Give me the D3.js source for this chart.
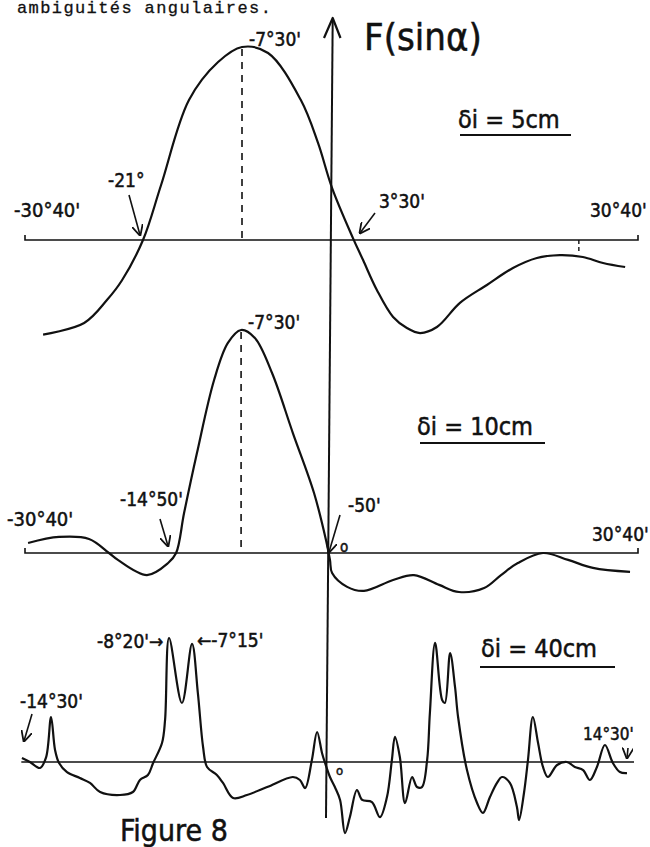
<!DOCTYPE html>
<html>
<head>
<meta charset="utf-8">
<script src="https://cdn.jsdelivr.net/npm/d3@7"></script>
<style>
  body { margin: 0; background: #fff; }
  .hand { font-family: "Liberation Sans Narrow", "DejaVu Sans Condensed", "Liberation Sans", sans-serif; fill: #111; stroke: #111; stroke-width: 0.5; }
  .type { font-family: "Liberation Mono", "DejaVu Sans Mono", monospace; fill: #111; stroke: #111; stroke-width: 0.3; }
</style>
</head>
<body>
<svg class="chart"></svg>
<script>
// abscissa: position along the axis, -1 = -30°40', +1 = +30°40'
// ordinate: F(sin a) normalised so the main peak is 1

// di = 5 cm
const u5 = [-0.941, -0.807, -0.732, -0.684, -0.615, -0.556, -0.465, -0.370, -0.292, -0.207, -0.100, -0.044,
  0.002, 0.070, 0.103, 0.148, 0.201, 0.246, 0.289, 0.344, 0.419, 0.507, 0.592, 0.670, 0.745, 0.820, 0.886, 0.958];
const f5 = [-0.49, -0.43, -0.31, -0.21, 0.0, 0.285, 0.725, 0.922, 1.0, 0.969, 0.725, 0.503,
  0.269, 0.010, -0.104, -0.259, -0.399, -0.456, -0.482, -0.451, -0.326, -0.233, -0.145, -0.093, -0.078, -0.088, -0.119, -0.140];

// di = 10 cm
const u10 = [-0.990, -0.889, -0.791, -0.726, -0.697, -0.602, -0.533, -0.507, -0.481, -0.439, -0.383, -0.338,
  -0.295, -0.250, -0.194, -0.126, -0.057, -0.018, -0.005, 0.002, 0.051, 0.106, 0.201, 0.269, 0.351, 0.416,
  0.498, 0.553, 0.608, 0.690, 0.772, 0.853, 0.974];
const f10 = [0.045, 0.072, 0.063, 0.0, -0.031, -0.099, -0.045, 0.0, 0.179, 0.448, 0.776, 0.942,
  1.0, 0.964, 0.807, 0.538, 0.269, 0.058, -0.031, -0.09, -0.152, -0.170, -0.121, -0.099, -0.143, -0.175,
  -0.157, -0.099, -0.045, 0.0, -0.031, -0.067, -0.085];

// di = 40 cm
const u40 = [-1.010, -0.984, -0.951, -0.931, -0.915, -0.902, -0.889, -0.863, -0.821, -0.788, -0.755, -0.690,
  -0.648, -0.625, -0.599, -0.582, -0.553, -0.543, -0.530, -0.488, -0.455, -0.436, -0.419, -0.406, -0.374,
  -0.354, -0.321, -0.276, -0.210, -0.126, -0.103, -0.086, -0.064, -0.047, -0.031, -0.021, -0.005, 0.011,
  0.028, 0.044, 0.060, 0.083, 0.100, 0.132, 0.158, 0.181, 0.197, 0.207, 0.223, 0.240, 0.263, 0.279, 0.295,
  0.312, 0.321, 0.338, 0.361, 0.370, 0.387, 0.403, 0.413, 0.442, 0.475, 0.494, 0.517, 0.540, 0.556, 0.582,
  0.605, 0.612, 0.628, 0.641, 0.657, 0.674, 0.690, 0.706, 0.736, 0.768, 0.794, 0.821, 0.843, 0.866, 0.892,
  0.918, 0.941, 0.964];
const f40 = [0.032, 0.0, -0.048, 0.040, 0.363, 0.097, -0.008, -0.081, -0.129, -0.169, -0.242, -0.266,
  -0.242, -0.145, -0.105, -0.008, 0.153, 0.339, 1.0, 0.476, 0.952, 0.556, 0.121, -0.040, -0.105,
  -0.169, -0.290, -0.266, -0.202, -0.121, -0.145, -0.210, 0.016, 0.242, 0.073, -0.008, -0.121, -0.202,
  -0.306, -0.573, -0.444, -0.226, -0.306, -0.323, -0.444, -0.282, 0.016, 0.202, 0.040, -0.331, -0.121, -0.202, -0.202,
  0.016, 0.395, 0.960, 0.500, 0.476, 0.879, 0.605, 0.363, -0.065, -0.331, -0.411, -0.282, -0.169, -0.121, -0.169,
  -0.363, -0.468, -0.250, 0.016, 0.363, 0.153, -0.040, -0.121, -0.024, 0.0, -0.040, -0.065, -0.145, -0.040, 0.137,
  -0.008, -0.081, -0.089];

const panelTitles = ['δi = 5cm', 'δi = 10cm', 'δi = 40cm'];
const peakPos = [-0.292, -0.295];
const peakLabels = ['-7°30\'', '-7°30\''];

const width = 650;
const height = 847;

const svg = d3.select('.chart')
  .attr('width', width)
  .attr('height', height);

const x = d3.scaleLinear()
  .domain([-1, 1])
  .range([25, 638]);

const panels = [
  {u: u5, f: f5, y: d3.scaleLinear().domain([0, 1]).range([240, 47])},
  {u: u10, f: f10, y: d3.scaleLinear().domain([0, 1]).range([553, 330])},
  {u: u40, f: f40, y: d3.scaleLinear().domain([0, 1]).range([762, 638])},
];

const line = d3.line().curve(d3.curveCatmullRom.alpha(0.5));

// arrow head marker for the hand drawn pointers
svg.append('defs').append('marker')
  .attr('id', 'head')
  .attr('viewBox', '0 0 10 10')
  .attr('refX', 9).attr('refY', 5)
  .attr('markerWidth', 7).attr('markerHeight', 7)
  .attr('orient', 'auto-start-reverse')
  .append('path')
  .attr('d', 'M0,0 L10,5 L0,10')
  .attr('fill', 'none')
  .attr('stroke', '#111')
  .attr('stroke-width', 1.6);

// vertical axis F(sin a), drawn by hand so it leans a little
svg.append('line')
  .attr('x1', x(0) + 1.2).attr('x2', x(0) - 5.5)
  .attr('y1', 19).attr('y2', 818)
  .attr('stroke', '#111').attr('stroke-width', 2);
svg.append('path')
  .attr('d', `M${x(0) - 7.5},38 L${x(0) + 1.2},18 L${x(0) + 9},38`)
  .attr('fill', 'none').attr('stroke', '#111').attr('stroke-width', 2.2)
  .attr('stroke-linejoin', 'round');

panels.forEach(function(p, i) {
  const y = p.y;
  const g = svg.append('g').attr('class', 'panel');

  // baseline with small end ticks
  const tick = i < 2 ? 5 : 0;
  const x0 = i < 2 ? x(-1) : x(-1.012);
  const x1 = i < 2 ? x(1) : x(0.987);
  g.append('path')
    .attr('d', `M${x0},${y(0) - tick} L${x0},${y(0)} L${x1},${y(0)} L${x1},${y(0) - tick}`)
    .attr('fill', 'none').attr('stroke', '#111').attr('stroke-width', 1.6);

  g.append('path')
    .attr('d', line(p.u.map(function(d, k) { return [x(d), y(p.f[k])]; })))
    .attr('fill', 'none')
    .attr('stroke', '#111')
    .attr('stroke-width', 2.2)
    .attr('stroke-linejoin', 'round');

  if (i < 2) {
    g.append('line')
      .attr('x1', x(peakPos[i])).attr('x2', x(peakPos[i]))
      .attr('y1', y(1) + 2).attr('y2', y(0))
      .attr('stroke', '#111').attr('stroke-width', 1.6)
      .attr('stroke-dasharray', '7,6');
    g.append('text')
      .attr('class', 'hand')
      .attr('x', x(peakPos[i]) + 7)
      .attr('y', y(1) - 1)
      .attr('font-size', 19)
      .text(peakLabels[i]);
  }
});

const y1 = panels[0].y;

// little dashed tick at the right hump of the first curve
svg.append('line')
  .attr('x1', x(0.807)).attr('x2', x(0.807))
  .attr('y1', y1(0)).attr('y2', y1(-0.065))
  .attr('stroke', '#111').attr('stroke-width', 1.4)
  .attr('stroke-dasharray', '4,3');

// titles di = ...
const titlePos = [[458, 128], [417, 435], [481, 657]];
const underline = [[460, 571, 135], [420, 545, 443], [480, 615, 667]];
panelTitles.forEach(function(t, i) {
  svg.append('text')
    .attr('class', 'hand')
    .attr('x', titlePos[i][0]).attr('y', titlePos[i][1])
    .attr('font-size', 25)
    .text(t);
  svg.append('line')
    .attr('x1', underline[i][0]).attr('x2', underline[i][1])
    .attr('y1', underline[i][2]).attr('y2', underline[i][2])
    .attr('stroke', '#111').attr('stroke-width', 1.8);
});

const labels = [
  {t: 'ambiguités angulaires.', x: 17, y: 13, s: 17, c: 'type', ls: 1.4},
  {t: 'F(sinα)', x: 364, y: 50, s: 38},
  {t: '-30°40\'', x: 14, y: 217, s: 20},
  {t: '30°40\'', x: 590, y: 217, s: 19},
  {t: '-21°', x: 108, y: 187, s: 19},
  {t: '3°30\'', x: 379, y: 208, s: 19},
  {t: '-30°40\'', x: 7, y: 526, s: 20},
  {t: '30°40\'', x: 592, y: 541, s: 19},
  {t: '-14°50\'', x: 120, y: 506, s: 19},
  {t: '-50\'', x: 348, y: 512, s: 19},
  {t: 'o', x: 340, y: 552, s: 15},
  {t: '-8°20\'→', x: 97, y: 648, s: 19},
  {t: '←-7°15\'', x: 197, y: 647, s: 19},
  {t: '-14°30\'', x: 20, y: 708, s: 19},
  {t: '14°30\'', x: 583, y: 740, s: 17},
  {t: 'o', x: 336, y: 775, s: 13},
  {t: 'Figure 8', x: 120, y: 841, s: 30},
];

svg.selectAll('.lbl')
  .data(labels)
  .enter()
.append('text')
  .attr('class', function(d) { return d.c || 'hand'; })
  .attr('x', function(d) { return d.x; })
  .attr('y', function(d) { return d.y; })
  .attr('font-size', function(d) { return d.s; })
  .attr('letter-spacing', function(d) { return d.ls || 0; })
  .text(function(d) { return d.t; });

// pointer arrows
const arrows = [
  [129, 195, 140, 235],
  [375, 213, 360, 233],
  [160, 519, 168, 546],
  [340, 515, 329, 552],
  [32, 714, 24, 741],
  [628, 748, 627, 758],
];
svg.selectAll('.arrow')
  .data(arrows)
  .enter()
.append('line')
  .attr('class', 'arrow')
  .attr('x1', function(d) { return d[0]; })
  .attr('y1', function(d) { return d[1]; })
  .attr('x2', function(d) { return d[2]; })
  .attr('y2', function(d) { return d[3]; })
  .attr('stroke', '#111')
  .attr('stroke-width', 1.6)
  .attr('marker-end', 'url(#head)');
</script>
</body>
</html>
